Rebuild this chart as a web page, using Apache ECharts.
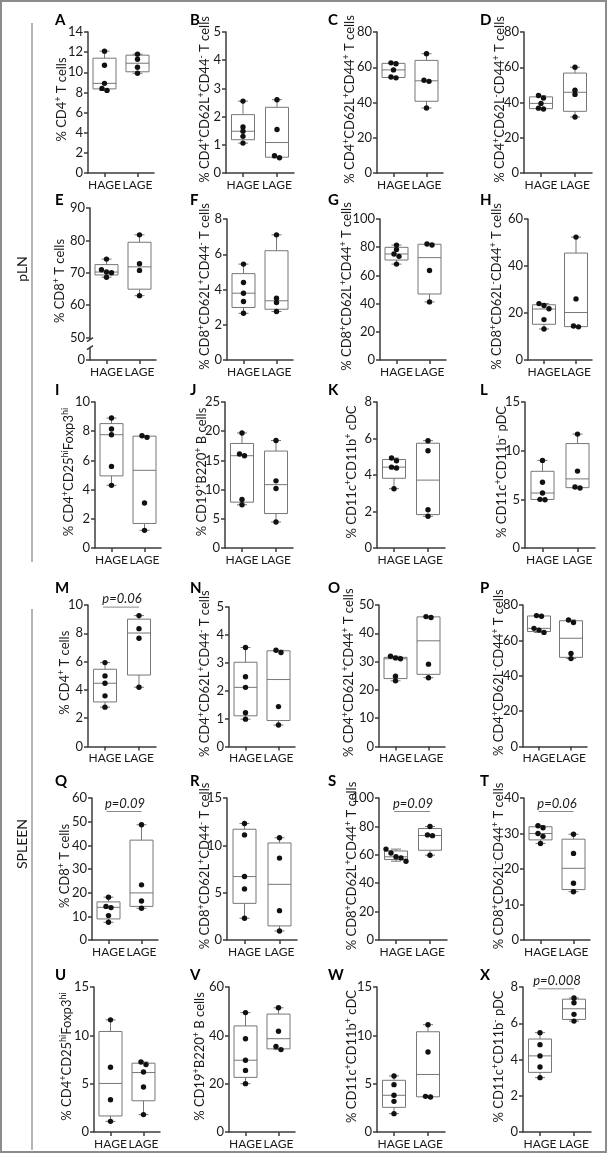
<!DOCTYPE html>
<html><head><meta charset="utf-8">
<script src="https://cdn.jsdelivr.net/npm/echarts@6/dist/echarts.min.js"></script>
<style>html,body{margin:0;padding:0;background:#fff}#c{width:610px;height:1162px}</style>
</head><body><div id="c"></div>
<script>
// ---------------- DATA ----------------
const categories = ['HAGE', 'LAGE'];
const panelIds = ['A','B','C','D','E','F','G','H','I','J','K','L','M','N','O','P','Q','R','S','T','U','V','W','X'];

// individual animals (dots)
const A_HAGE = [12.1, 10.7, 8.9, 8.4, 8.2];      const A_LAGE = [11.8, 11.3, 10.5, 9.9];
const B_HAGE = [2.55, 1.63, 1.48, 1.30, 1.06];   const B_LAGE = [2.6, 1.54, 0.61, 0.54];
const C_HAGE = [62.5, 62.0, 58.5, 54.5, 54.0];   const C_LAGE = [67.7, 52.6, 52.0, 36.9];
const D_HAGE = [44.0, 42.5, 39.5, 36.8, 36.3];   const D_LAGE = [60.0, 47.0, 44.6, 31.8];
const E_HAGE = [74.2, 70.9, 70.2, 70.0, 68.6];   const E_LAGE = [81.7, 72.8, 70.7, 62.9];
const F_HAGE = [5.44, 4.40, 3.79, 3.32, 2.65];   const F_LAGE = [7.1, 3.5, 3.26, 2.75];
const G_HAGE = [81.5, 78.3, 75.2, 73.5, 68.0];   const G_LAGE = [82.3, 81.6, 63.5, 41.2];
const H_HAGE = [24.0, 23.2, 21.8, 17.2, 13.2];   const H_LAGE = [52.3, 26.0, 14.5, 14.1];
const I_HAGE = [8.9, 8.15, 7.76, 5.59, 4.29];    const I_LAGE = [7.69, 7.58, 3.08, 1.21];
const J_HAGE = [19.7, 16.1, 15.8, 8.3, 7.4];     const J_LAGE = [18.4, 11.5, 10.2, 4.45];
const K_HAGE = [4.93, 4.78, 4.43, 4.38, 3.25];   const K_LAGE = [5.88, 5.33, 2.1, 1.74];
const L_HAGE = [9.0, 6.75, 5.65, 5.0, 4.95];     const L_LAGE = [11.7, 7.9, 6.27, 6.16];
const M_HAGE = [5.93, 4.99, 4.47, 3.58, 2.78];   const M_LAGE = [9.25, 8.33, 7.65, 4.19];
const N_HAGE = [3.55, 2.5, 2.12, 1.21, 0.98];    const N_LAGE = [3.45, 3.37, 1.43, 0.77];
const O_HAGE = [31.9, 31.3, 31.0, 24.8, 23.2];   const O_LAGE = [45.9, 45.6, 29.1, 24.3];
const P_HAGE = [74.0, 73.6, 66.8, 65.8, 64.5];   const P_LAGE = [71.5, 70.1, 52.6, 49.7];
const Q_HAGE = [18.1, 14.2, 13.7, 10.3, 7.5];    const Q_LAGE = [48.7, 23.3, 16.5, 13.4];
const R_HAGE = [12.3, 11.1, 6.7, 5.4, 2.3];      const R_LAGE = [10.8, 8.65, 3.1, 0.95];
const S_HAGE = [64.0, 61.3, 58.6, 57.8, 55.5];   const S_LAGE = [79.9, 74.0, 73.5, 59.7];
const T_HAGE = [32.2, 31.6, 30.0, 29.2, 27.2];   const T_LAGE = [29.8, 24.4, 16.0, 13.6];
const U_HAGE = [11.6, 6.7, 3.34, 1.1];           const U_LAGE = [7.24, 6.97, 6.2, 4.66, 1.8];
const V_HAGE = [49.4, 38.6, 29.7, 25.5, 20.0];   const V_LAGE = [51.4, 41.7, 35.4, 34.1];
const W_HAGE = [5.8, 4.9, 3.8, 3.17, 1.9];       const W_LAGE = [11.1, 8.28, 3.69, 3.62];
const X_HAGE = [5.48, 4.82, 4.2, 3.59, 3.0];     const X_LAGE = [7.39, 7.13, 6.49, 6.12];

// box summaries [min, Q1, median, Q3, max]
const A_BOX_HAGE = [8.2, 8.35, 8.9, 11.4, 12.1];   const A_BOX_LAGE = [9.9, 10.05, 10.9, 11.7, 11.8];
const B_BOX_HAGE = [1.06, 1.18, 1.48, 2.07, 2.55]; const B_BOX_LAGE = [0.54, 0.56, 1.08, 2.33, 2.6];
const C_BOX_HAGE = [54.0, 54.2, 58.5, 62.2, 62.5]; const C_BOX_LAGE = [36.9, 40.7, 52.3, 63.9, 67.7];
const D_BOX_HAGE = [36.3, 36.5, 39.5, 43.2, 44.0]; const D_BOX_LAGE = [31.8, 35.0, 45.8, 56.7, 60.0];
const E_BOX_HAGE = [68.6, 69.3, 70.2, 72.5, 74.2]; const E_BOX_LAGE = [62.9, 64.9, 71.8, 79.4, 81.7];
const F_BOX_HAGE = [2.65, 2.98, 3.79, 4.9, 5.44];  const F_BOX_LAGE = [2.75, 2.88, 3.36, 6.2, 7.1];
const G_BOX_HAGE = [68.0, 70.9, 75.2, 79.9, 81.5]; const G_BOX_LAGE = [41.2, 46.8, 72.6, 82.1, 82.3];
const H_BOX_HAGE = [13.2, 15.2, 21.7, 23.5, 24.0]; const H_BOX_LAGE = [14.1, 14.2, 20.2, 45.5, 52.3];
const I_BOX_HAGE = [4.29, 4.94, 7.76, 8.52, 8.9];  const I_BOX_LAGE = [1.21, 1.68, 5.32, 7.66, 7.69];
const J_BOX_HAGE = [7.4, 7.85, 15.8, 17.9, 19.7];  const J_BOX_LAGE = [4.45, 5.9, 10.85, 16.6, 18.4];
const K_BOX_HAGE = [3.25, 3.82, 4.43, 4.85, 4.93]; const K_BOX_LAGE = [1.74, 1.83, 3.72, 5.74, 5.88];
const L_BOX_HAGE = [4.95, 4.98, 5.65, 7.88, 9.0];  const L_BOX_LAGE = [6.16, 6.2, 7.1, 10.73, 11.7];
const M_BOX_HAGE = [2.78, 3.15, 4.47, 5.46, 5.93]; const M_BOX_LAGE = [4.19, 5.05, 8.02, 9.0, 9.25];
const N_BOX_HAGE = [0.98, 1.1, 2.12, 3.02, 3.55];  const N_BOX_LAGE = [0.77, 0.93, 2.4, 3.43, 3.45];
const O_BOX_HAGE = [23.2, 24.0, 31.0, 31.5, 31.9]; const O_BOX_LAGE = [24.3, 25.5, 37.35, 45.8, 45.9];
const P_BOX_HAGE = [64.5, 65.0, 66.8, 73.8, 74.0]; const P_BOX_LAGE = [49.7, 50.4, 61.2, 71.1, 71.5];
const Q_BOX_HAGE = [7.5, 8.9, 13.8, 16.1, 18.1];   const Q_BOX_LAGE = [13.4, 14.2, 19.9, 42.2, 48.7];
const R_BOX_HAGE = [2.3, 3.87, 6.7, 11.7, 12.3];   const R_BOX_LAGE = [0.95, 1.49, 5.88, 10.25, 10.8];
const S_BOX_HAGE = [55.5, 56.7, 58.6, 62.7, 64.0]; const S_BOX_LAGE = [59.7, 63.2, 73.6, 78.5, 79.9];
const T_BOX_HAGE = [27.2, 28.2, 30.0, 31.9, 32.2]; const T_BOX_LAGE = [13.6, 14.2, 20.2, 28.4, 29.8];
const U_BOX_HAGE = [1.1, 1.66, 5.02, 10.4, 11.6];  const U_BOX_LAGE = [1.8, 3.23, 6.15, 7.12, 7.24];
const V_BOX_HAGE = [20.0, 22.6, 29.7, 43.9, 49.4]; const V_BOX_LAGE = [34.1, 34.4, 38.6, 48.8, 51.4];
const W_BOX_HAGE = [1.9, 2.55, 3.8, 5.35, 5.8];    const W_BOX_LAGE = [3.62, 3.64, 5.95, 10.37, 11.1];
const X_BOX_HAGE = [3.0, 3.29, 4.2, 5.13, 5.48];   const X_BOX_LAGE = [6.12, 6.21, 6.8, 7.33, 7.39];

// y axes: max and tick step
const yMax  = [14, 5, 80, 80, 90, 8, 100, 60, 10, 25, 8, 15, 10, 5, 50, 80, 60, 15, 100, 40, 15, 60, 15, 8];
const yStep = [2, 1, 20, 20, 10, 2, 20, 20, 2, 5, 2, 5, 2, 1, 10, 20, 10, 5, 20, 10, 5, 20, 5, 2];
// panel E has a broken axis: 0 then 50..90
const E_TICKS = [43, 50, 60, 70, 80, 90];
const E_TICK_LABELS = ['0', '50', '60', '70', '80', '90'];

const yTitles = [
  '% CD4{+} T cells', '% CD4{+}CD62L{+}CD44{-} T cells', '% CD4{+}CD62L{+}CD44{+} T cells', '% CD4{+}CD62L{-}CD44{+} T cells',
  '% CD8{+} T cells', '% CD8{+}CD62L{+}CD44{-} T cells', '% CD8{+}CD62L{+}CD44{+} T cells', '% CD8{+}CD62L{-}CD44{+} T cells',
  '% CD4{+}CD25{hi}Foxp3{hi}', '% CD19{+}B220{+} B cells', '% CD11c{+}CD11b{+} cDC', '% CD11c{+}CD11b{-} pDC',
  '% CD4{+} T cells', '% CD4{+}CD62L{+}CD44{-} T cells', '% CD4{+}CD62L{+}CD44{+} T cells', '% CD4{+}CD62L{-}CD44{+} T cells',
  '% CD8{+} T cells', '% CD8{+}CD62L{+}CD44{-} T cells', '% CD8{+}CD62L{+}CD44{+} T cells', '% CD8{+}CD62L{-}CD44{+} T cells',
  '% CD4{+}CD25{hi}Foxp3{hi}', '% CD19{+}B220{+} B cells', '% CD11c{+}CD11b{+} cDC', '% CD11c{+}CD11b{-} pDC'
];

// significance annotations
const pPanels = ['M', 'Q', 'S', 'T', 'X'];
const pTexts  = ['p=0.06', 'p=0.09', 'p=0.09', 'p=0.06', 'p=0.008'];
const pLevels = [9.85, 54.3, 90.5, 36.2, 7.9];

const sectionLabels = ['pLN', 'SPLEEN'];

// ---------------- LAYOUT ----------------
const gridBox = [
  [88, 32, 66, 141], [226, 32, 68, 141], [377, 32, 66, 141], [524, 32, 68, 141],
  [90, 208, 66, 152], [227, 219, 66, 141], [380, 219, 66, 141], [528, 219, 64, 141],
  [95, 402, 66, 146], [225, 402, 68, 146], [377, 402, 68, 146], [525, 402, 70, 146],
  [88, 605, 68, 141.5], [229, 607, 66, 139.5], [379, 605, 66, 141.5], [523, 605, 64, 141.5],
  [92, 798, 66, 142], [227, 798, 70, 142], [379, 798, 68, 142], [524, 798, 66, 142],
  [94, 987, 66, 145], [229, 987, 66, 145], [377, 987, 68, 145], [523, 987, 68, 145]
];
// x of the baseline side of each rotated y title
const titleEdgeX = [70, 213, 358, 508, 68, 213, 355, 505, 77, 210, 360, 510, 73, 213, 357, 507, 73, 213, 360, 507, 75, 208, 360, 507];
const letterX = [55, 190, 328, 480];
const letterY = [20, 200, 390, 588, 781, 975];

const AX = '#3c3c3c';
const BOXC = '#777777';
const TXT = '#1a1a1a';
const FONT = 'Lato';

// ---------------- BUILD ----------------
const DOTS = [A_HAGE,A_LAGE,B_HAGE,B_LAGE,C_HAGE,C_LAGE,D_HAGE,D_LAGE,E_HAGE,E_LAGE,F_HAGE,F_LAGE,G_HAGE,G_LAGE,H_HAGE,H_LAGE,
  I_HAGE,I_LAGE,J_HAGE,J_LAGE,K_HAGE,K_LAGE,L_HAGE,L_LAGE,M_HAGE,M_LAGE,N_HAGE,N_LAGE,O_HAGE,O_LAGE,P_HAGE,P_LAGE,
  Q_HAGE,Q_LAGE,R_HAGE,R_LAGE,S_HAGE,S_LAGE,T_HAGE,T_LAGE,U_HAGE,U_LAGE,V_HAGE,V_LAGE,W_HAGE,W_LAGE,X_HAGE,X_LAGE];
const BOXES = [A_BOX_HAGE,A_BOX_LAGE,B_BOX_HAGE,B_BOX_LAGE,C_BOX_HAGE,C_BOX_LAGE,D_BOX_HAGE,D_BOX_LAGE,E_BOX_HAGE,E_BOX_LAGE,
  F_BOX_HAGE,F_BOX_LAGE,G_BOX_HAGE,G_BOX_LAGE,H_BOX_HAGE,H_BOX_LAGE,I_BOX_HAGE,I_BOX_LAGE,J_BOX_HAGE,J_BOX_LAGE,
  K_BOX_HAGE,K_BOX_LAGE,L_BOX_HAGE,L_BOX_LAGE,M_BOX_HAGE,M_BOX_LAGE,N_BOX_HAGE,N_BOX_LAGE,O_BOX_HAGE,O_BOX_LAGE,
  P_BOX_HAGE,P_BOX_LAGE,Q_BOX_HAGE,Q_BOX_LAGE,R_BOX_HAGE,R_BOX_LAGE,S_BOX_HAGE,S_BOX_LAGE,T_BOX_HAGE,T_BOX_LAGE,
  U_BOX_HAGE,U_BOX_LAGE,V_BOX_HAGE,V_BOX_LAGE,W_BOX_HAGE,W_BOX_LAGE,X_BOX_HAGE,X_BOX_LAGE];

const RICH = {
  n: {fontFamily: FONT, fontSize: 13, fill: TXT, color: TXT, lineHeight: 16, verticalAlign: 'middle'},
  s: {fontFamily: FONT, fontSize: 9, fill: TXT, color: TXT, lineHeight: 8, verticalAlign: 'top'}
};
function richName(t) {
  return ('{n|' + t.replace(/\{([^}]*)\}/g, '}{s|$1}{n|') + '}').replace(/\{n\|\}/g, '');
}

function jitter(vals, th) {
  const off = vals.map(() => 0);
  if (!vals.length) return off;
  const idx = vals.map((v, i) => i).sort((a, b) => vals[b] - vals[a]);
  let cl = [idx[0]];
  const flush = () => { const k = cl.length; cl.forEach((ii, j) => { off[ii] = (j - (k - 1) / 2) * 5; }); };
  for (let j = 1; j < idx.length; j++) {
    if (vals[cl[cl.length - 1]] - vals[idx[j]] < th) cl.push(idx[j]);
    else { flush(); cl = [idx[j]]; }
  }
  flush();
  return off;
}

function boxRender(params, api) {
  const c = api.value(0);
  const P = v => api.coord([c, v]);
  const base = P(api.value(1));
  const x = base[0], yMin = base[1];
  const yQ1 = P(api.value(2))[1], yMed = P(api.value(3))[1], yQ3 = P(api.value(4))[1], yMx = P(api.value(5))[1];
  const hw = 11.5, cw = 5;
  const st = {stroke: BOXC, lineWidth: 1, fill: null};
  return {type: 'group', children: [
    {type: 'line', shape: {x1: x, y1: yMx, x2: x, y2: yQ3}, style: st},
    {type: 'line', shape: {x1: x, y1: yQ1, x2: x, y2: yMin}, style: st},
    {type: 'line', shape: {x1: x - cw, y1: yMx, x2: x + cw, y2: yMx}, style: st},
    {type: 'line', shape: {x1: x - cw, y1: yMin, x2: x + cw, y2: yMin}, style: st},
    {type: 'rect', shape: {x: x - hw, y: yQ3, width: 2 * hw, height: yQ1 - yQ3}, style: {stroke: BOXC, lineWidth: 1, fill: 'rgba(0,0,0,0)'}},
    {type: 'line', shape: {x1: x - hw, y1: yMed, x2: x + hw, y2: yMed}, style: st}
  ]};
}
function dotRender(offs) {
  return function (params, api) {
    const pt = api.coord([api.value(0), api.value(1)]);
    return {type: 'circle', shape: {cx: pt[0] + offs[params.dataIndex], cy: pt[1], r: 2.7}, style: {fill: '#111'}};
  };
}

const grids = [], xAxes = [], yAxes = [], series = [], graphics = [];
const tickSets = [], tickLabelSets = [];
panelIds.forEach((id, i) => {
  const g = gridBox[i];
  grids.push({left: g[0], top: g[1], width: g[2], height: g[3], containLabel: false});
  xAxes.push({
    gridIndex: i, type: 'category', data: categories, boundaryGap: true,
    axisLine: {show: true, lineStyle: {color: AX, width: 1.5}},
    axisTick: {show: true, alignWithLabel: true, length: 4, lineStyle: {color: AX, width: 1.5}},
    axisLabel: {interval: 0, fontFamily: FONT, fontSize: 12, color: TXT, margin: 6, hideOverlap: false},
    splitLine: {show: false}
  });
  const isE = id === 'E';
  const yMin = isE ? E_TICKS[0] : 0;
  const ticks = [];
  if (isE) ticks.push(...E_TICKS);
  else for (let k = 0; k * yStep[i] <= yMax[i] + 1e-9; k++) ticks.push(+(k * yStep[i]).toFixed(6));
  tickSets.push(ticks);
  tickLabelSets.push(isE ? E_TICK_LABELS : ticks.map(v => String(v)));
  yAxes.push({
    gridIndex: i, type: 'value', min: yMin, max: yMax[i],
    axisLine: {show: true, lineStyle: {color: AX, width: 1.5}},
    axisTick: {show: true, length: 4, lineStyle: {color: AX, width: 1.5}, customValues: ticks},
    axisLabel: {show: false},
    splitLine: {show: false}
  });

  const hage = DOTS[2 * i], lage = DOTS[2 * i + 1];
  series.push({
    type: 'custom', xAxisIndex: i, yAxisIndex: i, silent: true, z: 3,
    data: [[0].concat(BOXES[2 * i]), [1].concat(BOXES[2 * i + 1])],
    encode: {x: 0, y: [1, 2, 3, 4, 5]}, renderItem: boxRender
  });
  const th = (yMax[i] - yMin) * 4 / g[3];
  const offs = jitter(hage, th).concat(jitter(lage, th));
  series.push({
    type: 'custom', xAxisIndex: i, yAxisIndex: i, silent: true, z: 4,
    data: hage.map(v => [0, v]).concat(lage.map(v => [1, v])),
    encode: {x: 0, y: 1}, renderItem: dotRender(offs)
  });

  // rotated y-axis title
  graphics.push({type: 'text', x: titleEdgeX[i] - 8, y: g[1] + g[3] / 2 - 3, rotation: Math.PI / 2, z: 50,
    style: {text: richName(yTitles[i]), rich: RICH, fill: TXT, font: '13px ' + FONT, align: 'center', verticalAlign: 'middle'}});

  const col = i % 4, row = Math.floor(i / 4);
  graphics.push({type: 'text', x: letterX[col], y: letterY[row], z: 50,
    style: {text: id, font: 'bold 15px ' + FONT, fill: '#000', verticalAlign: 'middle', align: 'left'}});
});

// axis break on panel E
const eIdx = panelIds.indexOf('E');
series.push({
  type: 'custom', xAxisIndex: eIdx, yAxisIndex: eIdx, silent: true, z: 10,
  data: [[0, 49.3, 46.8]], encode: {x: 0, y: [1, 2]},
  renderItem: (params, api) => {
    const x = params.coordSys.x;
    const y1 = api.coord([0, api.value(1)])[1], y2 = api.coord([0, api.value(2)])[1];
    return {type: 'group', children: [
      {type: 'rect', shape: {x: x - 4, y: y1, width: 8, height: y2 - y1}, style: {fill: '#fff'}},
      {type: 'line', shape: {x1: x - 3, y1: y1 + 2, x2: x + 3, y2: y1 - 2}, style: {stroke: AX, lineWidth: 1.5}},
      {type: 'line', shape: {x1: x - 3, y1: y2 + 2, x2: x + 3, y2: y2 - 2}, style: {stroke: AX, lineWidth: 1.5}}
    ]};
  }
});

// p-value annotations
pPanels.forEach((pid, k) => {
  const i = panelIds.indexOf(pid);
  series.push({
    type: 'custom', xAxisIndex: i, yAxisIndex: i, silent: true, z: 5, clip: false,
    data: [[0, pLevels[k]]], encode: {x: 0, y: 1},
    renderItem: (params, api) => {
      const a = api.coord([0, api.value(1)]), b = api.coord([1, api.value(1)]);
      return {type: 'group', children: [
        {type: 'line', shape: {x1: a[0] - 2, y1: a[1], x2: b[0], y2: b[1]}, style: {stroke: '#888', lineWidth: 1}},
        {type: 'text', x: (a[0] + b[0]) / 2, y: a[1] - 1.5,
          style: {text: pTexts[k], font: 'italic 13px ' + FONT, fill: TXT, align: 'center', verticalAlign: 'bottom'}}
      ]};
    }
  });
});

// frame, section lines and section labels
graphics.push({type: 'rect', shape: {x: 1, y: 1, width: 605, height: 1151}, style: {fill: 'rgba(0,0,0,0)', stroke: '#8c8c8c', lineWidth: 2}, z: -1});
graphics.push({type: 'line', shape: {x1: 32, y1: 23, x2: 32, y2: 562}, style: {stroke: '#b4b4b4', lineWidth: 2}});
graphics.push({type: 'line', shape: {x1: 32, y1: 609, x2: 32, y2: 1150}, style: {stroke: '#b4b4b4', lineWidth: 2}});
graphics.push({type: 'text', x: 22, y: 269, rotation: Math.PI / 2,
  style: {text: sectionLabels[0], font: '14px ' + FONT, fill: TXT, align: 'center', verticalAlign: 'middle'}});
graphics.push({type: 'text', x: 22, y: 844, rotation: Math.PI / 2,
  style: {text: sectionLabels[1], font: '14px ' + FONT, fill: TXT, align: 'center', verticalAlign: 'middle'}});

const chart = echarts.init(document.getElementById('c'), null, {renderer: 'canvas'});
chart.setOption({
  animation: false,
  backgroundColor: '#fff',
  grid: grids, xAxis: xAxes, yAxis: yAxes, series: series,
  graphic: graphics
});

// y tick labels: positioned with each axis' own scale
const labelEls = [];
panelIds.forEach((id, i) => {
  tickSets[i].forEach((v, k) => {
    const y = chart.convertToPixel({yAxisIndex: i}, v);
    labelEls.push({type: 'text', x: gridBox[i][0] - 5, y: y, z: 60,
      style: {text: tickLabelSets[i][k], font: '13px ' + FONT, fill: TXT, align: 'right', verticalAlign: 'middle'}});
  });
});
chart.setOption({graphic: graphics.concat(labelEls)});
</script>
</body></html>
